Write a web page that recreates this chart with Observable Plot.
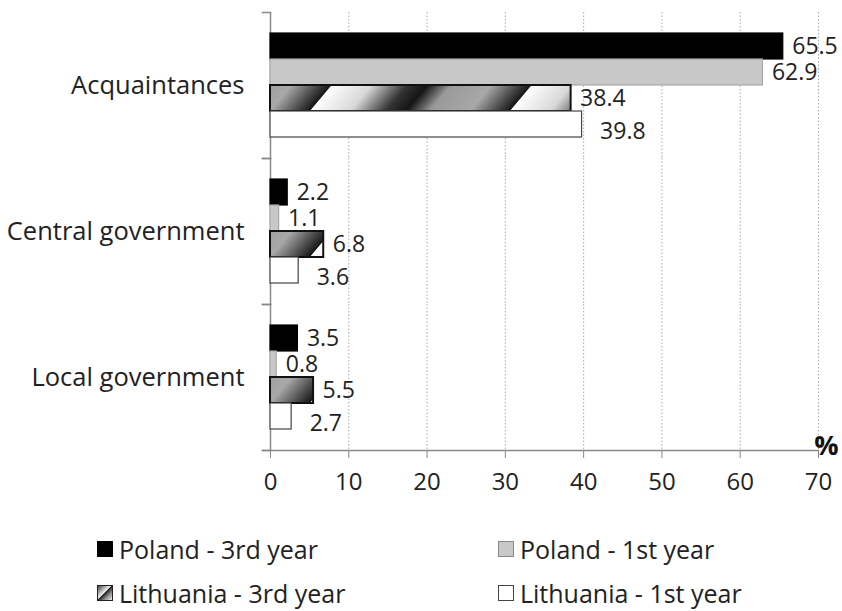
<!DOCTYPE html>
<html>
<head>
<meta charset="utf-8">
<script src="https://cdn.jsdelivr.net/npm/d3@7"></script>
<script src="https://cdn.jsdelivr.net/npm/@observablehq/plot@0.6"></script>
<style>
  body { margin: 0; background: #fff; width: 842px; height: 611px; overflow: hidden; font-family: "Open Sans", sans-serif; }
  #chart svg { display: block; }
  .legend { display: grid; grid-template-columns: 401px auto; grid-auto-rows: 44px; padding-left: 97px; margin-top: 12px; font-size: 25px; color: #222; }
  .item { display: flex; align-items: center; gap: 6px; white-space: nowrap; }
  .sw { width: 16px; height: 16px; box-sizing: border-box; display: inline-block; flex: none; }
</style>
</head>
<body>
<div id="chart"></div>
<div class="legend" id="legend"></div>
<script>
const categories = ["Acquaintances", "Central government", "Local government"];
const series = ["Poland - 3rd year", "Poland - 1st year", "Lithuania - 3rd year", "Lithuania - 1st year"];
const poland3rd = [65.5, 2.2, 3.5];
const poland1st = [62.9, 1.1, 0.8];
const lithuania3rd = [38.4, 6.8, 5.5];
const lithuania1st = [39.8, 3.6, 2.7];
const xTicks = [0, 10, 20, 30, 40, 50, 60, 70];

const seriesValues = [poland3rd, poland1st, lithuania3rd, lithuania1st];
const fills = ["#000000", "#c8c8c8", "url(#hatch)", "#ffffff"];
const strokes = ["#000000", "#a8a8a8", "#111111", "#444444"];

const data = categories.flatMap((c, i) => series.map((s, j) => ({category: c, series: s, value: seriesValues[j][i], k: j})));

const chart = Plot.plot({
  width: 842,
  height: 515,
  marginLeft: 270,
  marginRight: 24,
  marginTop: 12,
  marginBottom: 65,
  style: {fontFamily: "'Open Sans', sans-serif", fontSize: "24px", color: "#222", background: "white"},
  x: {domain: [0, 70], label: null},
  y: {domain: series, paddingInner: 0, paddingOuter: 0.755, axis: null},
  fy: {domain: categories, padding: 0, label: null},
  marks: [
    Plot.gridX({ticks: xTicks.slice(1), stroke: "#aaa", strokeOpacity: 1, strokeDasharray: "1.5,2"}),
    Plot.ruleX([0], {stroke: "#888", strokeWidth: 1.5}),
    Plot.frame({anchor: "top", insetLeft: -8, insetRight: 548, stroke: "#888", strokeWidth: 1.5}),
    Plot.frame({anchor: "bottom", insetLeft: -8, insetRight: 548, stroke: "#888", strokeWidth: 1.5}),
    Plot.frame({anchor: "bottom", facetAnchor: "bottom", insetLeft: -8, stroke: "#888", strokeWidth: 1.5}),
    ...series.map((s, j) => Plot.barX(data.filter(d => d.k === j), {
      x: "value", y: "series", fy: "category",
      fill: fills[j], stroke: strokes[j], strokeWidth: j === 2 ? 2 : 1.2
    })),
    Plot.text(data.filter(d => d.k !== 3), {
      x: "value", y: "series", fy: "category", text: d => d.value.toFixed(1),
      textAnchor: "start", dx: 9, fontSize: 23, fill: "#222"
    }),
    Plot.text(data.filter(d => d.k === 3), {
      x: "value", y: "series", fy: "category", text: d => d.value.toFixed(1),
      textAnchor: "start", dx: 18, dy: 7, fontSize: 23, fill: "#222"
    }),
    Plot.text([{category: "Local government", t: "%"}], {
      fy: "category", text: "t", frameAnchor: "bottom-right", textAnchor: "middle",
      dx: 8, dy: 4, fontSize: 27, fontWeight: "bold", fill: "#111"
    }),
    Plot.axisX({ticks: xTicks, tickSize: 8, tickPadding: 14, stroke: "#888", fontSize: 24, fill: "#222", label: null}),
    Plot.axisFy({anchor: "left", tickSize: 0, tickPadding: 26, fontSize: 25.5, fill: "#222", label: null})
  ]
});

const defs = d3.select(chart).insert("defs", ":first-child");
const grad = defs.append("linearGradient").attr("id", "hatchGrad").attr("x1", "0").attr("x2", "1").attr("y1", "0").attr("y2", "0");
[[0, "#ffffff"], [0.2, "#d8d8d8"], [0.38, "#333333"], [0.48, "#151515"], [0.6, "#9a9a9a"], [0.8, "#a8a8a8"], [1, "#151515"]]
  .forEach(([o, c]) => grad.append("stop").attr("offset", o).attr("stop-color", c));
const pat = defs.append("pattern").attr("id", "hatch").attr("patternUnits", "userSpaceOnUse")
  .attr("width", 200).attr("height", 300).attr("patternTransform", "translate(403,0) skewX(-40)");
pat.append("rect").attr("width", 200).attr("height", 300).attr("fill", "url(#hatchGrad)");

document.getElementById("chart").appendChild(chart);

const legendSw = [
  "background:#000;border:1px solid #000;",
  "background:#c8c8c8;border:1px solid #888;",
  "background:linear-gradient(135deg,#444 0%,#ddd 40%,#fff 45%,#222 50%,#888 70%,#eee 100%);border:1.5px solid #222;",
  "background:#fff;border:1px solid #444;"
];
const legend = document.getElementById("legend");
series.forEach((s, j) => {
  const it = document.createElement("div");
  it.className = "item";
  it.innerHTML = `<span class="sw" style="${legendSw[j]}"></span><span>${s}</span>`;
  legend.appendChild(it);
});
</script>
</body>
</html>
